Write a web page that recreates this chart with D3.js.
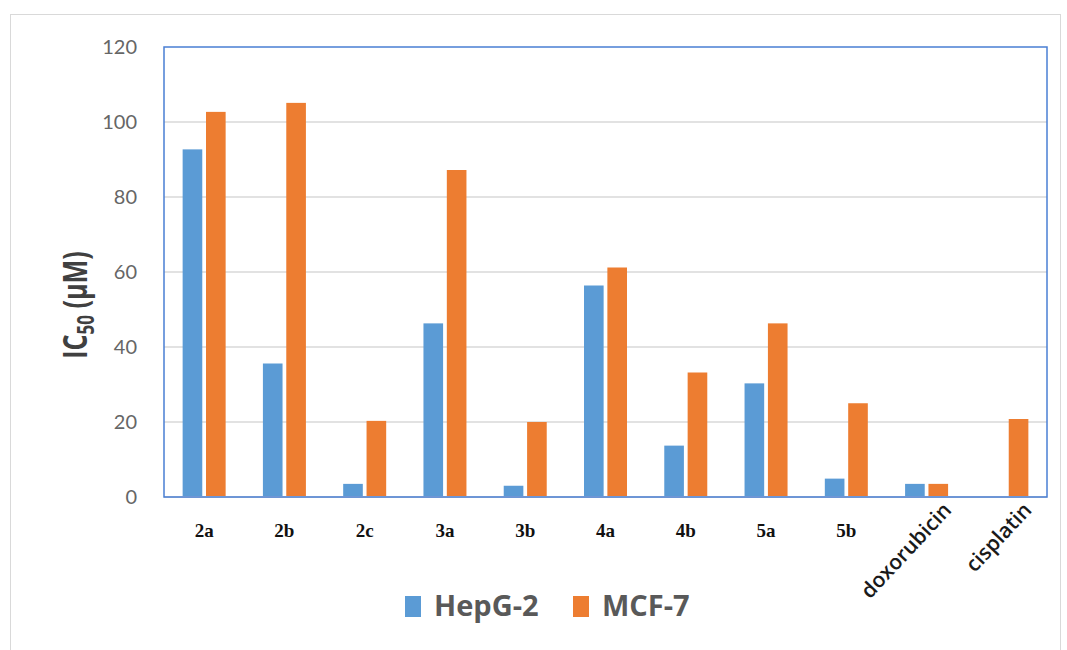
<!DOCTYPE html>
<html>
<head>
<meta charset="utf-8">
<script src="https://cdn.jsdelivr.net/npm/d3@7"></script>
<style>
  body { margin: 0; background: #fff; }
</style>
</head>
<body>
<div id="chart"></div>
<script>
// compounds and IC50 values (uM)
const compounds = ["2a", "2b", "2c", "3a", "3b", "4a", "4b", "5a", "5b", "doxorubicin", "cisplatin"];
const hepg2 = [92.7, 35.6, 3.5, 46.3, 3.0, 56.4, 13.7, 30.3, 4.9, 3.5, null];
const mcf7 = [102.7, 105.1, 20.3, 87.2, 20.0, 61.2, 33.2, 46.3, 25.0, 3.5, 20.8];
const seriesNames = ["HepG-2", "MCF-7"];
const colors = ["#5b9bd5", "#ed7d31"];
const yTicks = [0, 20, 40, 60, 80, 100, 120];

const W = 1067, H = 650;
const margin = {top: 47, right: 20, bottom: 153, left: 164};
const width = 1047 - margin.left;
const height = 497 - margin.top;

const svg = d3.select("#chart").append("svg")
  .attr("width", W)
  .attr("height", H);

// outer frame
svg.append("rect")
  .attr("x", 10.5).attr("y", 14.5)
  .attr("width", 1050).attr("height", 640)
  .attr("fill", "none")
  .attr("stroke", "#d9d9d9");

const g = svg.append("g")
  .attr("transform", `translate(${margin.left}, ${margin.top})`);

const x = d3.scaleBand()
  .domain(compounds)
  .range([0, width]);

const x1 = d3.scaleBand()
  .domain(seriesNames)
  .range([0, 43])
  .paddingInner(0.16);

const y = d3.scaleLinear()
  .domain([0, 120])
  .range([height, 0]);

// gridlines
g.append("g")
  .selectAll("line")
  .data(yTicks.filter(t => t > 0 && t < 120))
  .join("line")
    .attr("x1", 0).attr("x2", width)
    .attr("y1", d => y(d)).attr("y2", d => y(d))
    .attr("stroke", "#d9d9d9")
    .attr("stroke-width", 1.5);

// y axis labels
const yAxis = g.append("g")
  .call(d3.axisLeft(y).tickValues(yTicks).tickSize(0).tickPadding(27))
  .style("font-family", "Lato, 'Open Sans', sans-serif")
  .style("font-size", "20px");
yAxis.select(".domain").remove();
yAxis.selectAll("text").attr("fill", "#666");

// bars
const rows = compounds.map((c, i) => ({c, vals: [hepg2[i], mcf7[i]]}));
const groups = g.selectAll(".grp")
  .data(rows)
  .join("g")
    .attr("transform", d => `translate(${x(d.c) + (x.bandwidth() - 43) / 2}, 0)`);

groups.selectAll("rect")
  .data(d => d.vals.map((v, k) => ({v, k})).filter(e => e.v != null))
  .join("rect")
    .attr("x", e => x1(seriesNames[e.k]))
    .attr("y", e => y(e.v))
    .attr("width", x1.bandwidth())
    .attr("height", e => height - y(e.v))
    .attr("fill", e => colors[e.k]);

// bottom axis line
g.append("line")
  .attr("x1", 0).attr("x2", width)
  .attr("y1", height).attr("y2", height)
  .attr("stroke", "#d9d9d9")
  .attr("stroke-width", 2);

// plot border
g.append("rect")
  .attr("x", 0).attr("y", 0)
  .attr("width", width).attr("height", height)
  .attr("fill", "none")
  .attr("stroke", "#4a7fd4")
  .attr("stroke-width", 1.5);

// x labels
const rotated = ["doxorubicin", "cisplatin"];
g.selectAll(".xlab")
  .data(compounds.filter(c => !rotated.includes(c)))
  .join("text")
    .attr("x", d => x(d) + x.bandwidth() / 2)
    .attr("y", height + 40)
    .attr("text-anchor", "middle")
    .style("font-family", "'Liberation Serif', 'Times New Roman', serif")
    .style("font-weight", "bold")
    .style("font-size", "19px")
    .attr("fill", "#111")
    .text(d => d);

g.selectAll(".xrot")
  .data(rotated)
  .join("text")
    .attr("transform", d => `translate(${x(d) + x.bandwidth() / 2 + 26}, ${height + 14}) rotate(-47)`)
    .attr("text-anchor", "end")
    .style("font-family", "'Open Sans', Lato, sans-serif")
    .style("font-weight", 600)
    .style("font-size", "21px")
    .attr("fill", "#1a1a1a")
    .text(d => d);

// y axis title (condensed, like the original)
const yt = svg.append("text")
  .attr("transform", "translate(87, 305) rotate(-90) scale(0.74, 1)")
  .attr("text-anchor", "middle")
  .style("font-family", "'Open Sans', Lato, sans-serif")
  .style("font-weight", "bold")
  .style("font-size", "34px")
  .attr("fill", "#404040");
yt.append("tspan").text("IC");
yt.append("tspan").attr("dy", 7).style("font-size", "23px").text("50");
yt.append("tspan").attr("dy", -7).text(" (μM)");

// legend
const legend = svg.append("g")
  .attr("transform", "translate(405, 596)");
const legX = [0, 168];
seriesNames.forEach((s, i) => {
  legend.append("rect")
    .attr("x", legX[i]).attr("y", 0)
    .attr("width", 16).attr("height", 21)
    .attr("fill", colors[i]);
  legend.append("text")
    .attr("x", legX[i] + 29).attr("y", 20)
    .style("font-family", "'Open Sans', Lato, sans-serif")
    .style("font-weight", "bold")
    .style("font-size", "29px")
    .attr("fill", "#595959")
    .text(s);
});
</script>
</body>
</html>
